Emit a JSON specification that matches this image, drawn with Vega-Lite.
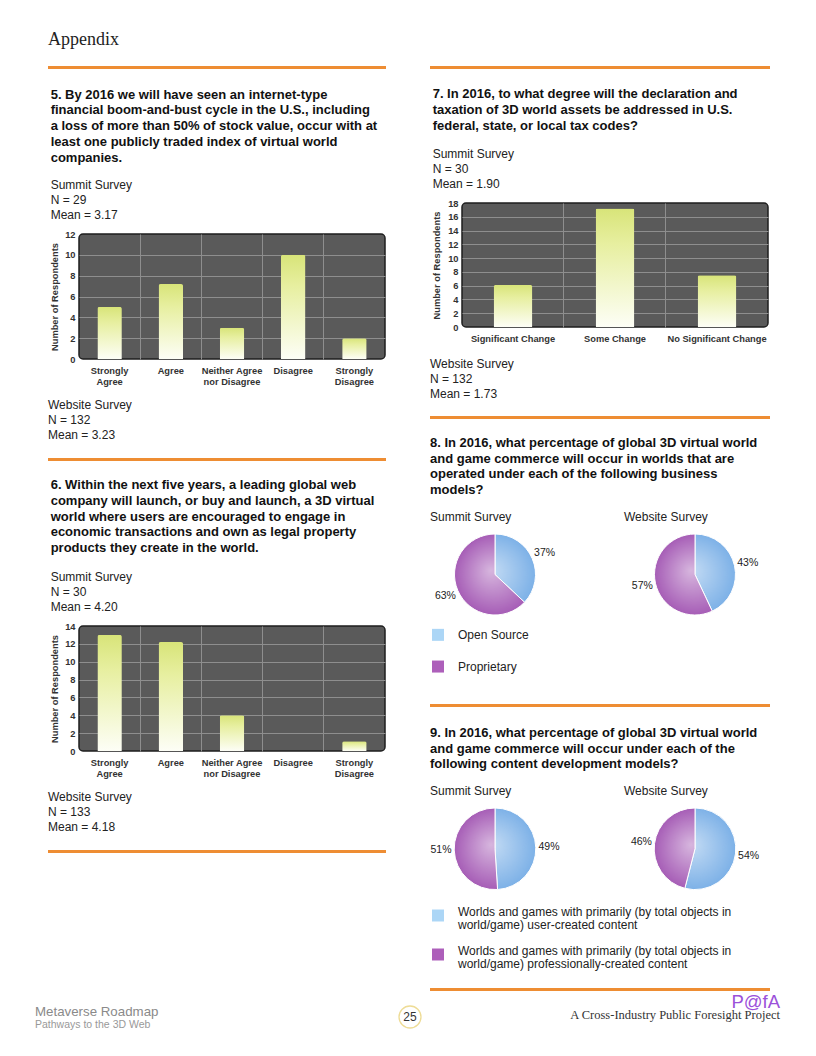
{
  "$schema": "https://vega.github.io/schema/vega-lite/v6.json",
  "background": "#ffffff",
  "padding": {"left": 35, "top": 31, "right": 5, "bottom": 5},
  "spacing": 0,
  "config": {
    "view": {"stroke": null},
    "concat": {"spacing": 0},
    "font": "Liberation Sans",
    "title": {"anchor": "start", "frame": "bounds", "font": "Liberation Sans", "fontSize": 13, "fontWeight": "bold", "color": "#111111", "lineHeight": 15.75, "subtitleFont": "Liberation Sans", "subtitleFontSize": 12, "subtitleColor": "#222222", "subtitleLineHeight": 15, "subtitlePadding": 14, "offset": 10.5},
    "axis": {"labelFont": "Liberation Sans", "labelFontSize": 9.3, "labelFontWeight": "bold", "labelColor": "#333333", "titleFont": "Liberation Sans", "titleFontSize": 9.3, "titleFontWeight": "bold", "titleColor": "#333333", "domain": false, "ticks": false, "tickSize": 0, "gridWidth": 1},
    "axisX": {"labelAngle": 0, "labelPadding": 7, "labelLineHeight": 11},
    "axisY": {"labelPadding": 4, "titlePadding": 5}
  },
  "vconcat": [
    {
      "spacing": 0,
      "hconcat": [
        {"width": 13, "height": 1, "data": {"values": []}, "mark": "point", "encoding": {}},
        {"width": 338, "height": 13, "title": {"text": "Appendix", "font": "Liberation Serif", "fontSize": 18, "fontWeight": "normal", "color": "#222222", "offset": 4}, "data": {"values": []}, "mark": "point", "encoding": {}}
      ]
    },
    {
      "spacing": 0,
      "hconcat": [
        {"width": 13, "height": 1, "data": {"values": []}, "mark": "point", "encoding": {}},
        {
          "spacing": 0,
          "vconcat": [
            {"width": 338, "height": 3, "data": {"values": []}, "mark": "point", "encoding": {}, "view": {"fill": "#EE8D33", "stroke": null}},
            {"width": 338, "height": 18, "data": {"values": []}, "mark": "point", "encoding": {}},
            {
              "spacing": 0,
              "hconcat": [
                {"width": 1, "height": 1, "data": {"values": []}, "mark": "point", "encoding": {}},
                {
                  "width": 306, "height": 125,
                  "title": {"text": ["5. By 2016 we will have seen an internet-type", "financial boom-and-bust cycle in the U.S., including", "a loss of more than 50% of stock value, occur with at", "least one publicly traded index of virtual world", "companies."], "subtitle": ["Summit Survey", "N = 29", "Mean = 3.17"], "subtitlePadding": 15, "offset": 9.5},
                  "view": {"fill": "#5a5a5a", "stroke": "#1e1e1e", "strokeWidth": 1.5, "cornerRadius": 4},
                  "data": {"values": [
                    {"response": "Strongly Agree", "count": 5},
                    {"response": "Agree", "count": 7.2},
                    {"response": "Neither Agree nor Disagree", "count": 3},
                    {"response": "Disagree", "count": 10},
                    {"response": "Strongly Disagree", "count": 2}
                  ]},
                  "mark": {"type": "bar", "cornerRadiusTopLeft": 2, "cornerRadiusTopRight": 2, "fill": {"gradient": "linear", "x1": 0, "y1": 0, "x2": 0, "y2": 1, "stops": [{"offset": 0, "color": "#d8e479"}, {"offset": 0.3, "color": "#e7efa0"}, {"offset": 1, "color": "#fdfef6"}]}},
                  "encoding": {
                    "x": {"field": "response", "type": "nominal", "sort": null, "title": null, "scale": {"paddingInner": 0.6, "paddingOuter": 0.3},
                      "axis": {"grid": true, "bandPosition": -0.75, "gridColor": {"condition": {"test": "datum.value === 'Strongly Agree'", "value": "transparent"}, "value": "#8e8e8e"}, "labelExpr": "datum.label === 'Neither Agree nor Disagree' ? ['Neither Agree', 'nor Disagree'] : split(datum.label, ' ')"}},
                    "y": {"field": "count", "type": "quantitative", "title": "Number of Respondents", "scale": {"domain": [0, 12], "nice": false},
                      "axis": {"values": [0, 2, 4, 6, 8, 10, 12], "grid": true, "gridColor": {"condition": {"test": "datum.value === 0 || datum.value === 12", "value": "transparent"}, "value": "#8e8e8e"}}}
                  }
                }
              ]
            },
            {"width": 338, "height": 11, "data": {"values": []}, "mark": "point", "encoding": {}},
            {"width": 338, "height": 12, "title": {"text": ["Website Survey", "N = 132", "Mean = 3.23"], "fontWeight": "normal", "fontSize": 12, "lineHeight": 15, "color": "#222222", "offset": 4}, "data": {"values": []}, "mark": "point", "encoding": {}},
            {"width": 338, "height": 3, "data": {"values": []}, "mark": "point", "encoding": {}, "view": {"fill": "#EE8D33", "stroke": null}},
            {"width": 338, "height": 16.5, "data": {"values": []}, "mark": "point", "encoding": {}},
            {
              "spacing": 0,
              "hconcat": [
                {"width": 1, "height": 1, "data": {"values": []}, "mark": "point", "encoding": {}},
                {
                  "width": 306, "height": 125,
                  "title": {"text": ["6. Within the next five years, a leading global web", "company will launch, or buy and launch, a 3D virtual", "world where users are encouraged to engage in", "economic transactions and own as legal property", "products they create in the world."], "subtitle": ["Summit Survey", "N = 30", "Mean = 4.20"], "subtitlePadding": 17, "offset": 9},
                  "view": {"fill": "#5a5a5a", "stroke": "#1e1e1e", "strokeWidth": 1.5, "cornerRadius": 4},
                  "data": {"values": [
                    {"response": "Strongly Agree", "count": 13},
                    {"response": "Agree", "count": 12.2},
                    {"response": "Neither Agree nor Disagree", "count": 4},
                    {"response": "Disagree", "count": 0},
                    {"response": "Strongly Disagree", "count": 1.1}
                  ]},
                  "mark": {"type": "bar", "cornerRadiusTopLeft": 2, "cornerRadiusTopRight": 2, "fill": {"gradient": "linear", "x1": 0, "y1": 0, "x2": 0, "y2": 1, "stops": [{"offset": 0, "color": "#d8e479"}, {"offset": 0.3, "color": "#e7efa0"}, {"offset": 1, "color": "#fdfef6"}]}},
                  "encoding": {
                    "x": {"field": "response", "type": "nominal", "sort": null, "title": null, "scale": {"paddingInner": 0.6, "paddingOuter": 0.3},
                      "axis": {"grid": true, "bandPosition": -0.75, "gridColor": {"condition": {"test": "datum.value === 'Strongly Agree'", "value": "transparent"}, "value": "#8e8e8e"}, "labelExpr": "datum.label === 'Neither Agree nor Disagree' ? ['Neither Agree', 'nor Disagree'] : split(datum.label, ' ')"}},
                    "y": {"field": "count", "type": "quantitative", "title": "Number of Respondents", "scale": {"domain": [0, 14], "nice": false},
                      "axis": {"values": [0, 2, 4, 6, 8, 10, 12, 14], "grid": true, "gridColor": {"condition": {"test": "datum.value === 0 || datum.value === 14", "value": "transparent"}, "value": "#8e8e8e"}}}
                  }
                }
              ]
            },
            {"width": 338, "height": 11, "data": {"values": []}, "mark": "point", "encoding": {}},
            {"width": 338, "height": 12, "title": {"text": ["Website Survey", "N = 133", "Mean = 4.18"], "fontWeight": "normal", "fontSize": 12, "lineHeight": 15, "color": "#222222", "offset": 4}, "data": {"values": []}, "mark": "point", "encoding": {}},
            {"width": 338, "height": 3, "data": {"values": []}, "mark": "point", "encoding": {}, "view": {"fill": "#EE8D33", "stroke": null}}
          ]
        },
        {"width": 44, "height": 1, "data": {"values": []}, "mark": "point", "encoding": {}},
        {
          "spacing": 0,
          "vconcat": [
            {"width": 340, "height": 3, "data": {"values": []}, "mark": "point", "encoding": {}, "view": {"fill": "#EE8D33", "stroke": null}},
            {"width": 340, "height": 18, "data": {"values": []}, "mark": "point", "encoding": {}},
            {
              "spacing": 0,
              "hconcat": [
                {"width": 1, "height": 1, "data": {"values": []}, "mark": "point", "encoding": {}},
                {
                  "width": 306, "height": 124,
                  "title": {"text": ["7. In 2016, to what degree will the declaration and", "taxation of 3D world assets be addressed in U.S.", "federal, state, or local tax codes?"], "subtitle": ["Summit Survey", "N = 30", "Mean = 1.90"], "subtitlePadding": 16, "offset": 9.5},
                  "view": {"fill": "#5a5a5a", "stroke": "#1e1e1e", "strokeWidth": 1.5, "cornerRadius": 4},
                  "data": {"values": [
                    {"response": "Significant Change", "count": 6.1},
                    {"response": "Some Change", "count": 17.2},
                    {"response": "No Significant Change", "count": 7.5}
                  ]},
                  "mark": {"type": "bar", "cornerRadiusTopLeft": 2, "cornerRadiusTopRight": 2, "fill": {"gradient": "linear", "x1": 0, "y1": 0, "x2": 0, "y2": 1, "stops": [{"offset": 0, "color": "#d8e479"}, {"offset": 0.3, "color": "#e7efa0"}, {"offset": 1, "color": "#fdfef6"}]}},
                  "encoding": {
                    "x": {"field": "response", "type": "nominal", "sort": null, "title": null, "scale": {"paddingInner": 0.62, "paddingOuter": 0.31},
                      "axis": {"grid": true, "bandPosition": -0.816, "gridColor": {"condition": {"test": "datum.value === 'Significant Change'", "value": "transparent"}, "value": "#8e8e8e"}}},
                    "y": {"field": "count", "type": "quantitative", "title": "Number of Respondents", "scale": {"domain": [0, 18], "nice": false},
                      "axis": {"values": [0, 2, 4, 6, 8, 10, 12, 14, 16, 18], "titlePadding": 6, "grid": true, "gridColor": {"condition": {"test": "datum.value === 0 || datum.value === 18", "value": "transparent"}, "value": "#8e8e8e"}}}
                  }
                }
              ]
            },
            {"width": 340, "height": 12.4, "data": {"values": []}, "mark": "point", "encoding": {}},
            {"width": 340, "height": 11, "title": {"text": ["Website Survey", "N = 132", "Mean = 1.73"], "fontWeight": "normal", "fontSize": 12, "lineHeight": 15, "color": "#222222", "offset": 4}, "data": {"values": []}, "mark": "point", "encoding": {}},
            {"width": 340, "height": 3, "data": {"values": []}, "mark": "point", "encoding": {}, "view": {"fill": "#EE8D33", "stroke": null}},
            {"width": 340, "height": 16.2, "data": {"values": []}, "mark": "point", "encoding": {}},
            {
              "bounds": "flush",
              "spacing": 64,
              "title": {"text": ["8. In 2016, what percentage of global 3D virtual world", "and game commerce will occur in worlds that are", "operated under each of the following business", "models?"], "offset": 13.5},
              "hconcat": [
                {
                  "width": 130, "height": 81,
                  "title": {"text": "Summit Survey", "fontWeight": "normal", "fontSize": 12, "color": "#222222", "offset": 8.5},
                  "data": {"values": [{"model": "Open Source", "share": 0.37}, {"model": "Proprietary", "share": 0.63}]},
                  "layer": [
                    {"mark": {"type": "arc", "outerRadius": 40.5, "stroke": "#ffffff", "strokeWidth": 1}, "encoding": {"theta": {"field": "share", "type": "quantitative", "stack": true}, "order": {"field": "model", "sort": "ascending"}, "color": {"condition": {"test": "datum.model === 'Open Source'", "value": "#7db1e7"}, "value": "#a65db6"}}},
                    {"mark": {"type": "arc", "outerRadius": 40.5, "fill": {"gradient": "radial", "x1": 0.45, "y1": 0.45, "r1": 0, "x2": 0.5, "y2": 0.5, "r2": 0.5, "stops": [{"offset": 0, "color": "rgba(255,255,255,0.55)"}, {"offset": 1, "color": "rgba(255,255,255,0)"}]}}, "encoding": {"theta": {"aggregate": "sum", "field": "share", "type": "quantitative", "stack": true}}},
                    {"mark": {"type": "text", "radius": 54, "fontSize": 10.5, "fill": "#222222"}, "encoding": {"theta": {"field": "share", "type": "quantitative", "stack": true}, "order": {"field": "model", "sort": "ascending"}, "text": {"field": "share", "type": "quantitative", "format": ".0%"}}}
                  ]
                },
                {
                  "width": 142, "height": 81,
                  "title": {"text": "Website Survey", "fontWeight": "normal", "fontSize": 12, "color": "#222222", "offset": 8.5},
                  "data": {"values": [{"model": "Open Source", "share": 0.43}, {"model": "Proprietary", "share": 0.57}]},
                  "layer": [
                    {"mark": {"type": "arc", "outerRadius": 40.5, "stroke": "#ffffff", "strokeWidth": 1}, "encoding": {"theta": {"field": "share", "type": "quantitative", "stack": true}, "order": {"field": "model", "sort": "ascending"}, "color": {"condition": {"test": "datum.model === 'Open Source'", "value": "#7db1e7"}, "value": "#a65db6"}}},
                    {"mark": {"type": "arc", "outerRadius": 40.5, "fill": {"gradient": "radial", "x1": 0.45, "y1": 0.45, "r1": 0, "x2": 0.5, "y2": 0.5, "r2": 0.5, "stops": [{"offset": 0, "color": "rgba(255,255,255,0.55)"}, {"offset": 1, "color": "rgba(255,255,255,0)"}]}}, "encoding": {"theta": {"aggregate": "sum", "field": "share", "type": "quantitative", "stack": true}}},
                    {"mark": {"type": "text", "radius": 54, "fontSize": 10.5, "fill": "#222222"}, "encoding": {"theta": {"field": "share", "type": "quantitative", "stack": true}, "order": {"field": "model", "sort": "ascending"}, "text": {"field": "share", "type": "quantitative", "format": ".0%"}}}
                  ]
                }
              ]
            },
            {"width": 340, "height": 1.7, "data": {"values": []}, "mark": "point", "encoding": {}},
            {
              "width": 16, "height": 63.4,
              "data": {"values": [{"model": "Open Source"}, {"model": "Proprietary"}]},
              "encoding": {"y": {"field": "model", "type": "nominal", "sort": null, "axis": null}},
              "layer": [
                {"mark": {"type": "square", "size": 144, "opacity": 1}, "encoding": {"color": {"condition": {"test": "datum.model === 'Open Source'", "value": "#acd6f6"}, "value": "#ad5fba"}}},
                {"mark": {"type": "text", "align": "left", "baseline": "middle", "dx": 20, "fontSize": 12, "fill": "#222222"}, "encoding": {"text": {"field": "model"}}}
              ]
            },
            {"width": 340, "height": 20.4, "data": {"values": []}, "mark": "point", "encoding": {}},
            {"width": 340, "height": 3, "data": {"values": []}, "mark": "point", "encoding": {}, "view": {"fill": "#EE8D33", "stroke": null}},
            {"width": 340, "height": 18.2, "data": {"values": []}, "mark": "point", "encoding": {}},
            {
              "bounds": "flush",
              "spacing": 64,
              "title": {"text": ["9. In 2016, what percentage of global 3D virtual world", "and game commerce will occur under each of the", "following content development models?"], "offset": 13.3},
              "hconcat": [
                {
                  "width": 130, "height": 81.6,
                  "title": {"text": "Summit Survey", "fontWeight": "normal", "fontSize": 12, "color": "#222222", "offset": 8.3},
                  "data": {"values": [{"model": "User-created", "share": 0.49}, {"model": "Professionally-created", "share": 0.51}]},
                  "layer": [
                    {"mark": {"type": "arc", "outerRadius": 40.8, "stroke": "#ffffff", "strokeWidth": 1}, "encoding": {"theta": {"field": "share", "type": "quantitative", "stack": true}, "order": {"field": "model", "sort": "descending"}, "color": {"condition": {"test": "datum.model === 'User-created'", "value": "#7db1e7"}, "value": "#a65db6"}}},
                    {"mark": {"type": "arc", "outerRadius": 40.8, "fill": {"gradient": "radial", "x1": 0.45, "y1": 0.45, "r1": 0, "x2": 0.5, "y2": 0.5, "r2": 0.5, "stops": [{"offset": 0, "color": "rgba(255,255,255,0.55)"}, {"offset": 1, "color": "rgba(255,255,255,0)"}]}}, "encoding": {"theta": {"aggregate": "sum", "field": "share", "type": "quantitative", "stack": true}}},
                    {"mark": {"type": "text", "radius": 54, "fontSize": 10.5, "fill": "#222222"}, "encoding": {"theta": {"field": "share", "type": "quantitative", "stack": true}, "order": {"field": "model", "sort": "descending"}, "text": {"field": "share", "type": "quantitative", "format": ".0%"}}}
                  ]
                },
                {
                  "width": 142, "height": 81.6,
                  "title": {"text": "Website Survey", "fontWeight": "normal", "fontSize": 12, "color": "#222222", "offset": 8.3},
                  "data": {"values": [{"model": "User-created", "share": 0.54}, {"model": "Professionally-created", "share": 0.46}]},
                  "layer": [
                    {"mark": {"type": "arc", "outerRadius": 40.8, "stroke": "#ffffff", "strokeWidth": 1}, "encoding": {"theta": {"field": "share", "type": "quantitative", "stack": true}, "order": {"field": "model", "sort": "descending"}, "color": {"condition": {"test": "datum.model === 'User-created'", "value": "#7db1e7"}, "value": "#a65db6"}}},
                    {"mark": {"type": "arc", "outerRadius": 40.8, "fill": {"gradient": "radial", "x1": 0.45, "y1": 0.45, "r1": 0, "x2": 0.5, "y2": 0.5, "r2": 0.5, "stops": [{"offset": 0, "color": "rgba(255,255,255,0.55)"}, {"offset": 1, "color": "rgba(255,255,255,0)"}]}}, "encoding": {"theta": {"aggregate": "sum", "field": "share", "type": "quantitative", "stack": true}}},
                    {"mark": {"type": "text", "radius": 54, "fontSize": 10.5, "fill": "#222222"}, "encoding": {"theta": {"field": "share", "type": "quantitative", "stack": true}, "order": {"field": "model", "sort": "descending"}, "text": {"field": "share", "type": "quantitative", "format": ".0%"}}}
                  ]
                }
              ]
            },
            {"width": 340, "height": 3.6, "data": {"values": []}, "mark": "point", "encoding": {}},
            {
              "width": 16, "height": 78,
              "data": {"values": [
                {"model": "User-created", "label": "Worlds and games with primarily (by total objects in\nworld/game) user-created content"},
                {"model": "Professionally-created", "label": "Worlds and games with primarily (by total objects in\nworld/game) professionally-created content"}
              ]},
              "encoding": {"y": {"field": "model", "type": "nominal", "sort": null, "axis": null}},
              "layer": [
                {"mark": {"type": "square", "size": 144, "opacity": 1}, "encoding": {"color": {"condition": {"test": "datum.model === 'User-created'", "value": "#acd6f6"}, "value": "#ad5fba"}}},
                {"mark": {"type": "text", "align": "left", "baseline": "middle", "dx": 20, "dy": -4, "fontSize": 12, "lineHeight": 13.5, "lineBreak": "\n", "fill": "#222222"}, "encoding": {"text": {"field": "label"}}}
              ]
            },
            {"width": 340, "height": 14, "data": {"values": []}, "mark": "point", "encoding": {}},
            {"width": 340, "height": 3, "data": {"values": []}, "mark": "point", "encoding": {}, "view": {"fill": "#EE8D33", "stroke": null}}
          ]
        }
      ]
    },
    {
      "spacing": 0,
      "hconcat": [
        {
          "spacing": 0,
          "vconcat": [
            {"width": 361, "height": 12.5, "data": {"values": []}, "mark": "point", "encoding": {}},
            {"width": 361, "height": 1, "title": {"text": "Metaverse Roadmap", "fontWeight": "normal", "fontSize": 13.3, "color": "#8a8a8a", "subtitle": "Pathways to the 3D Web", "subtitleFontSize": 10.5, "subtitleColor": "#999999", "subtitlePadding": 1.5, "offset": 2}, "data": {"values": []}, "mark": "point", "encoding": {}}
          ]
        },
        {
          "spacing": 0,
          "vconcat": [
            {"width": 22, "height": 11.5, "data": {"values": []}, "mark": "point", "encoding": {}},
            {
              "width": 22, "height": 22,
              "data": {"values": [{"page": "25"}]},
              "layer": [
                {"mark": {"type": "point", "shape": "circle", "size": 484, "filled": false, "stroke": "#EEDC96", "strokeWidth": 1.3, "opacity": 1}, "encoding": {}},
                {"mark": {"type": "text", "fontSize": 12, "fill": "#333333", "baseline": "middle"}, "encoding": {"text": {"field": "page"}}}
              ]
            }
          ]
        },
        {
          "spacing": 0,
          "vconcat": [
            {"width": 356, "height": 1, "data": {"values": []}, "mark": "point", "encoding": {}},
            {"width": 356, "height": 1, "title": {"text": "P@fA", "anchor": "end", "fontWeight": "normal", "fontSize": 18.5, "color": "#9b51d9", "subtitle": "A Cross-Industry Public Foresight Project", "subtitleFont": "Liberation Serif", "subtitleFontSize": 12.5, "subtitleColor": "#333333", "subtitlePadding": -2.5, "offset": 2}, "data": {"values": []}, "mark": "point", "encoding": {}}
          ]
        }
      ]
    }
  ]
}
